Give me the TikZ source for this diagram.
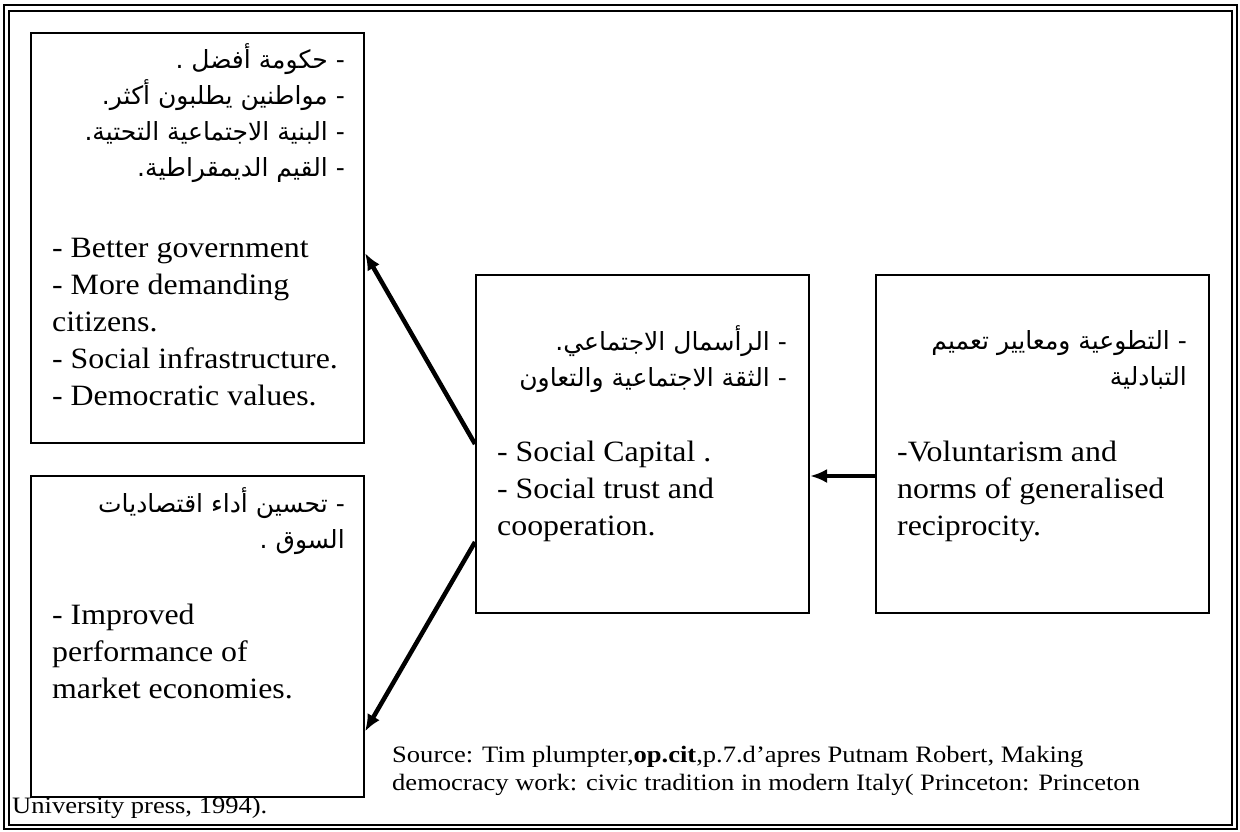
\documentclass[tikz,border=0pt]{standalone}
\usepackage{fontspec}
\setmainfont[FakeStretch=1.08]{Liberation Serif}
\newfontfamily\srcfont[FakeStretch=1.13]{Liberation Serif}
\newfontfamily\arabicfont[Script=Arabic]{DejaVu Sans}
\TeXXeTstate=1
\usetikzlibrary{calc, positioning, arrows.meta}

\tikzset{
  box/.style={draw, line width=2pt, inner sep=0pt, fill=white},
  en/.style={inner sep=0pt, align=left, font=\fontsize{29.5}{37}\selectfont},
  ar/.style={inner sep=0pt, align=right, font=\arabicfont\fontsize{25}{36}\selectfont},
  src/.style={inner sep=0pt, align=left, font=\srcfont\fontsize{23.5}{28}\selectfont},
  link/.style={line width=4.5pt, ->},
}

\begin{document}
\begin{tikzpicture}[x=1pt, y=-1pt, >={Latex[length=17pt,width=14pt]}]
  \useasboundingbox (0,0) rectangle (1240,831);
  % double frame
  \draw [line width=1.8pt] (4,5) rectangle (1237,829);
  \draw [line width=1.8pt] (9,11) rectangle (1232,825);
  \node [src, anchor=base west] (src2) at (12,813) {University press, 1994).};

  % boxes
  \node [box, minimum width=333pt, minimum height=410pt] (gov) at (197.5,238) {};
  \node [box, minimum width=333pt, minimum height=321pt] (mkt) at (197.5,636.5) {};
  \node [box, minimum width=333pt, minimum height=338pt] (soc) at (642.5,444) {};
  \node [box, minimum width=333pt, minimum height=338pt] (vol) at (1042.5,444) {};

  % texts (anchor is the baseline of the last line)
  \node [ar, anchor=base east] (gov-ar) at (345,176)
    {\beginR - حكومة أفضل .\endR\\
     \beginR - مواطنين يطلبون أكثر.\endR\\
     \beginR - البنية الاجتماعية التحتية.\endR\\
     \beginR - القيم الديمقراطية.\endR};
  \node [en, anchor=base west] (gov-en) at (52,405)
    {- Better government\\- More demanding\\citizens.\\- Social infrastructure.\\- Democratic values.};
  \node [ar, anchor=base east] (mkt-ar) at (345,548)
    {\beginR - تحسين أداء اقتصاديات\endR\\ \beginR السوق .\endR};
  \node [en, anchor=base west] (mkt-en) at (52,698)
    {- Improved\\performance of\\market economies.};
  \node [ar, anchor=base east] (soc-ar) at (787,386)
    {\beginR - الرأسمال الاجتماعي.\endR\\ \beginR - الثقة الاجتماعية والتعاون\endR};
  \node [en, anchor=base west] (soc-en) at (497,535)
    {- Social Capital .\\- Social trust and\\cooperation.};
  \node [ar, anchor=base east] (vol-ar) at (1187,385)
    {\beginR - التطوعية ومعايير تعميم\endR\\ \beginR التبادلية\endR};
  \node [en, anchor=base west] (vol-en) at (897,535)
    {-Voluntarism and\\norms of generalised\\reciprocity.};
  \node [src, anchor=base west] (src1) at (392,790)
    {Source: Tim plumpter,\textbf{op.cit},p.7.d’apres Putnam Robert, Making\\democracy work: civic tradition in modern Italy( Princeton: Princeton};

  % arrows
  \draw [link] (soc.west) -- ($(gov.east)+(0,15)$);
  \draw [link] ($(soc.west)+(0,98)$) -- ($(mkt.east)+(0,95)$);
  \draw [link] ($(vol.west)+(0,32)$) -- ($(soc.east)+(0,32)$);
\end{tikzpicture}
\end{document}
